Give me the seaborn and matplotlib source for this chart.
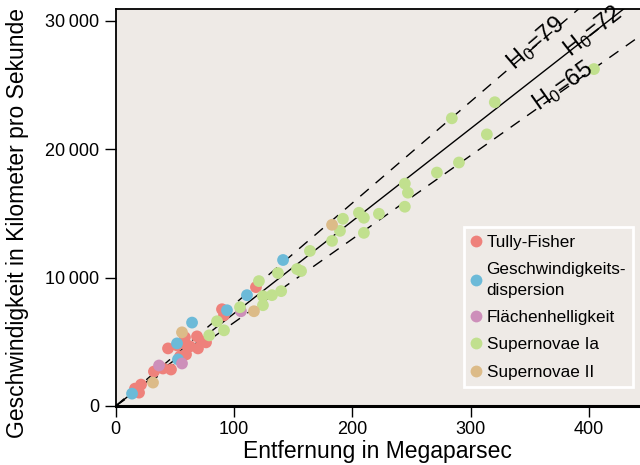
import numpy as np
import pandas as pd
import matplotlib
matplotlib.use("Agg")
import matplotlib.pyplot as plt
from matplotlib.lines import Line2D
import seaborn as sns

# ---------------- data (distance Mpc, velocity km/s) ----------------
tf_x = [16.3, 21.4, 19.7, 32.3, 39.9, 46.7, 54.3, 59.4, 44.2, 51.8, 59.4, 69.5,
        76.3, 68.7, 58.5, 62.8, 72.9, 89.8, 91.5, 118.5]
tf_y = [1353, 1666, 1040, 2682, 2917, 2839, 3855, 4011, 4481, 4716, 4794, 4481,
        4951, 5419, 5341, 4637, 5020, 7531, 7061, 9251]

gd_x = [13.8, 52.6, 51.8, 64.5, 94.0, 110.9, 141.4]
gd_y = [962, 3629, 4872, 6491, 7452, 8626, 11363]

fh_x = [36.6, 56.0, 105.8]
fh_y = [3151, 3308, 7374]

sn1_x = [79.0, 85.6, 91.5, 105.0, 124.4, 132.0, 124.4, 121.0, 137.1, 153.2, 156.6,
         139.8, 164.1, 182.8, 189.5, 192.0, 209.7, 205.5, 209.7, 222.4, 244.3,
         246.9, 244.3, 271.4, 290.0, 313.6, 284.0, 320.3, 404.1]
sn1_y = [5497, 6593, 5888, 7687, 8548, 8626, 7843, 9720, 10346, 10659, 10502,
         8939, 12067, 12849, 13631, 14570, 13475, 15039, 14648, 14961, 15509,
         16604, 17308, 18168, 18950, 21140, 22391, 23642, 26223]

sn2_x = [31.5, 56.0, 116.8, 182.8]
sn2_y = [1822, 5732, 7374, 14101]

categories = ["Tully-Fisher", "Geschwindigkeits-\ndispersion", "Flächenhelligkeit",
              "Supernovae Ia", "Supernovae II"]
colors = ["#EE817B", "#6CBAD8", "#CD8FBA", "#C1E08E", "#DCBB88"]

hubble_values = [79, 72, 65]
hubble_styles = ["--", "-", "--"]
hubble_label_pos = [(355, 28250), (403, 29150), (378, 24900)]

x_ticks = [0, 100, 200, 300, 400]
y_ticks = [0, 10000, 20000, 30000]
y_tick_labels = ["0", "10\u2009000", "20\u2009000", "30\u2009000"]

xs = [tf_x, gd_x, fh_x, sn1_x, sn2_x]
ys = [tf_y, gd_y, fh_y, sn1_y, sn2_y]
df = pd.concat([pd.DataFrame({"dist": x, "vel": y, "Methode": c})
                for x, y, c in zip(xs, ys, categories)], ignore_index=True)

# ---------------- style ----------------
sns.set_style("ticks")
plt.rcParams["font.family"] = ["Liberation Sans", "DejaVu Sans"]
plt.rcParams["mathtext.fontset"] = "custom"
plt.rcParams["mathtext.rm"] = "Liberation Sans"
plt.rcParams["mathtext.it"] = "Liberation Sans:italic"
for k in ["text.color", "axes.labelcolor", "xtick.color", "ytick.color",
          "xtick.labelcolor", "ytick.labelcolor"]:
    plt.rcParams[k] = "black"

bg = "#EEEAE6"
fig = plt.figure(figsize=(6.4, 4.65), dpi=100)
ax = fig.add_axes([0.1808, 0.1269, 0.8192, 0.8538])
ax.set_facecolor(bg)

xmax = 443
xline = np.array([0, xmax])
for h, ls in zip(hubble_values, hubble_styles):
    if ls == "--":
        ax.plot(xline, h * xline, color="black", lw=1.0, dashes=(8, 6.5), zorder=1)
    else:
        ax.plot(xline, h * xline, color="black", lw=1.0, zorder=1)

sns.scatterplot(data=df, x="dist", y="vel", hue="Methode", hue_order=categories,
                palette=colors, s=72, linewidth=0, alpha=1, legend=False, ax=ax,
                zorder=3)

ax.set_xlim(0, xmax)
ax.set_ylim(0, 30900)
fig.canvas.draw()
for h, (lx, ly) in zip(hubble_values, hubble_label_pos):
    a = ax.transData.transform((0, 0))
    b = ax.transData.transform((100, 100 * h))
    ang = np.degrees(np.arctan2(b[1] - a[1], b[0] - a[0]))
    ax.text(lx, ly, r"$\mathrm{H_0}$=" + str(h), rotation=ang, rotation_mode="anchor",
            ha="center", va="center", fontsize=17, zorder=4)

ax.set_xticks(x_ticks)
ax.set_yticks(y_ticks)
ax.set_yticklabels(y_tick_labels)
ax.tick_params(axis="both", direction="out", length=8, width=1.0, labelsize=13,
               color="black", labelcolor="black")
ax.tick_params(axis="y", pad=4)
ax.tick_params(axis="x", pad=3)

for side in ["top", "left"]:
    ax.spines[side].set_linewidth(1.3)
    ax.spines[side].set_color("black")
ax.spines["bottom"].set_linewidth(2.2)
ax.spines["bottom"].set_color("black")
ax.spines["right"].set_visible(False)
ax.spines["top"].set_visible(True)

ax.set_xlabel("Entfernung in Megaparsec", fontsize=16.5, labelpad=1)
ax.set_ylabel("Geschwindigkeit in Kilometer pro Sekunde", fontsize=16.5)
ax.yaxis.set_label_coords(-0.165, 0.46)

handles = [Line2D([0], [0], marker="o", linestyle="none", markersize=8.5,
                  markerfacecolor=c, markeredgewidth=0) for c in colors]
leg = ax.legend(handles, categories, loc="lower right",
                bbox_to_anchor=(0.987, 0.048), borderaxespad=0, fontsize=12.3,
                frameon=True, fancybox=False, facecolor=bg, edgecolor="white",
                framealpha=1, handlelength=0.6, handletextpad=0.3,
                labelspacing=0.72, borderpad=0.42)
for t in leg.get_texts():
    t.set_linespacing(1.5)
leg.get_frame().set_linewidth(2)

fig.savefig("out.png", dpi=100)
